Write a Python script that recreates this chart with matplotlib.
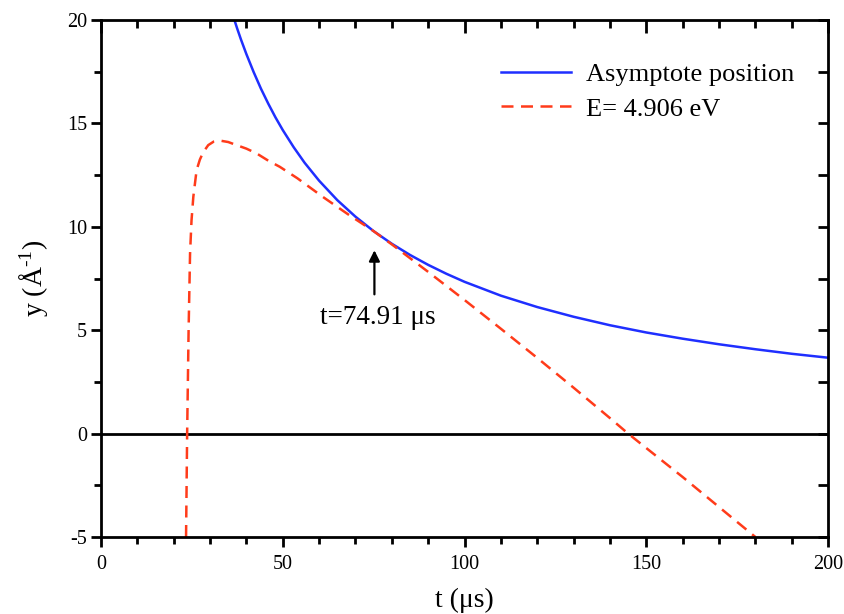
import numpy as np
import matplotlib
matplotlib.use("Agg")
import matplotlib.pyplot as plt
from matplotlib.ticker import MultipleLocator

plt.rcParams['font.family'] = ['Liberation Serif', 'DejaVu Serif']
plt.rcParams['mathtext.fontset'] = 'custom'
plt.rcParams['mathtext.rm'] = 'Liberation Serif'
plt.rcParams['mathtext.default'] = 'regular'
plt.rcParams['axes.unicode_minus'] = False

# asymptote position
t_asym = [36.7, 37.5, 38.5, 40, 42, 44, 46, 48, 50, 53, 56, 60, 65, 70, 75,
          80, 85, 90, 95, 100, 110, 120, 130, 140, 150, 160, 170, 180, 190, 200]
y_asym = [20.0, 19.57, 19.06, 18.35, 17.48, 16.68, 15.96, 15.29, 14.68,
          13.85, 13.1, 12.23, 11.29, 10.49, 9.79, 9.18, 8.64, 8.16, 7.73,
          7.34, 6.67, 6.12, 5.65, 5.24, 4.89, 4.59, 4.32, 4.08, 3.86, 3.67]

# trajectory for E = 4.906 eV
t_e = [23.4, 23.7, 24.1, 24.5, 24.9, 25.4, 26.3, 27.2, 28.1, 29.5, 31, 32.7,
       35, 37.3, 40, 42.8, 46, 49.2, 54, 61, 68, 74.91, 80, 90, 100, 110,
       120, 130, 140, 145, 150, 160, 170, 180]
y_e = [-5.0, 0.0, 5.0, 8.7, 10.3, 11.45, 12.74, 13.25, 13.6, 13.95, 14.12,
       14.17, 14.1, 13.95, 13.78, 13.55, 13.2, 12.9, 12.35, 11.45, 10.6, 9.8,
       9.15, 7.82, 6.46, 5.07, 3.66, 2.22, 0.75, 0.0, -0.7, -2.1, -3.55, -5.0]

t_touch = 74.91
y_touch = 9.8

fig = plt.figure(figsize=(8.45, 6.14), dpi=100)
ax = fig.add_axes([0.1195, 0.1254, 0.8605, 0.842])

ax.axhline(0, color='black', lw=2)
ax.plot(t_asym, y_asym, color='#1f2fff', lw=1.8, label='Asymptote position')
ax.plot(t_e, y_e, color='#ff3b1a', lw=1.8, dashes=(4.8, 3), label='E= 4.906 eV')

ax.annotate('', xy=(t_touch + 0.3, y_touch - 0.8), xytext=(t_touch + 0.3, 6.6),
            arrowprops=dict(arrowstyle='-|>', color='black', lw=1.6,
                            mutation_scale=16))
ax.text(t_touch + 1.2, 5.6, 't=74.91 μs', ha='center', va='center', fontsize=19.5)

ax.set_xlim(0, 200)
ax.set_ylim(-5, 20)
ax.xaxis.set_major_locator(MultipleLocator(50))
ax.xaxis.set_minor_locator(MultipleLocator(10))
ax.yaxis.set_major_locator(MultipleLocator(5))
ax.yaxis.set_minor_locator(MultipleLocator(2.5))

for s in ax.spines.values():
    s.set_linewidth(2)

ax.tick_params(which='both', direction='out', width=2, labelsize=14.5,
               top=False, right=False)
ax.tick_params(which='major', length=7)
ax.tick_params(which='minor', length=5)
ax.tick_params(axis='x', which='major', pad=6)
ax.tick_params(axis='y', which='major', pad=3)

# inward ticks on top and right
top = ax.secondary_xaxis('top')
top.xaxis.set_major_locator(MultipleLocator(50))
top.xaxis.set_minor_locator(MultipleLocator(10))
top.tick_params(which='both', direction='in', width=2, labeltop=False)
top.tick_params(which='major', length=9)
top.tick_params(which='minor', length=6)
right = ax.secondary_yaxis('right')
right.yaxis.set_major_locator(MultipleLocator(5))
right.yaxis.set_minor_locator(MultipleLocator(2.5))
right.tick_params(which='both', direction='in', width=2, length=7,
                  labelright=False)

ax.set_xlabel('t (μs)', fontsize=20, labelpad=10)
ax.set_ylabel(r'y (Å$^{\text{-1}}$)', fontsize=20, labelpad=12)

ax.legend(loc='upper right', bbox_to_anchor=(1.0, 0.984), frameon=False,
          fontsize=19, handlelength=2.65, handletextpad=0.55,
          borderaxespad=0.9, labelspacing=0.42)

fig.savefig('out.png', dpi=100)
